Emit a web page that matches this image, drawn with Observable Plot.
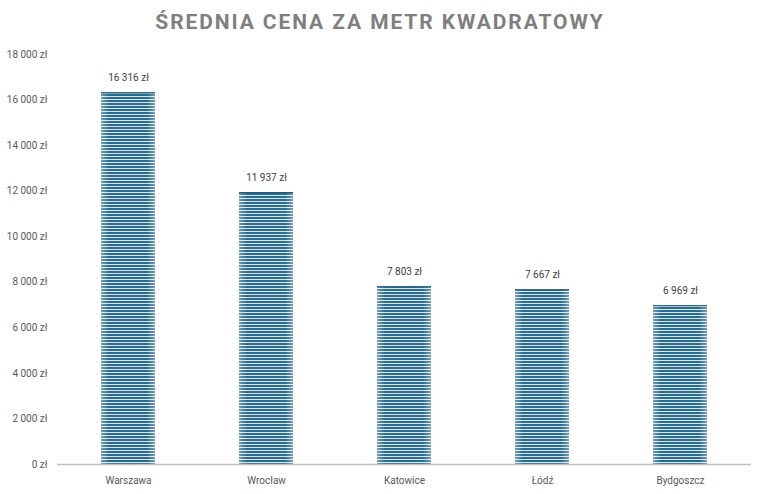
<!DOCTYPE html>
<html>
<head>
<meta charset="utf-8">
<script src="https://cdn.jsdelivr.net/npm/d3@7"></script>
<script src="https://cdn.jsdelivr.net/npm/@observablehq/plot@0.6"></script>
<style>
  html, body { margin: 0; padding: 0; background: #fff; }
  #title { height: 40px; line-height: 44px; text-align: center; font-family: Roboto, sans-serif; font-weight: bold; font-size: 21px; letter-spacing: 1.9px; color: #7f7f7f; padding-right: 4px; }
</style>
</head>
<body>
<div id="title">ŚREDNIA CENA ZA METR KWADRATOWY</div>
<div id="chart"></div>
<script>
const cities = ["Warszawa", "Wrocław", "Katowice", "Łódź", "Bydgoszcz"];
const prices = [16316, 11937, 7803, 7667, 6969];
const yTicks = [0, 2000, 4000, 6000, 8000, 10000, 12000, 14000, 16000, 18000];

const data = cities.map((c, i) => ({city: c, price: prices[i]}));
const loc = d3.formatLocale({decimal: ",", thousands: "\u00a0", grouping: [3], currency: ["", " zł"]});
const fmt = v => loc.format(",")(v).replace(/\u00a0/g, " ") + " zł";

const plot = Plot.plot({
  width: 764,
  height: 454,
  marginLeft: 59,
  marginRight: 15,
  marginTop: 14,
  marginBottom: 30,
  style: {fontFamily: "Roboto, sans-serif", fontSize: "10px", color: "#595959", background: "#fff"},
  x: {domain: cities, paddingInner: 0.61, paddingOuter: 0.305, label: null, tickSize: 0, tickPadding: 12},
  y: {domain: [0, 18000], ticks: yTicks, tickFormat: fmt, label: null, tickSize: 0, tickPadding: 12},
  marks: [
    Plot.barY(data, {x: "city", y: "price", fill: "url(#stripes)"}),
    Plot.barY(data, {x: "city", y: "price", fill: "url(#edges)"}),
    Plot.tickY(data, {x: "city", y: "price", stroke: "#1f5a78", strokeWidth: 1.2}),
    Plot.ruleY([0], {stroke: "#bfbfbf", strokeWidth: 1.5, insetLeft: -2, insetRight: -2}),
    Plot.text(data, {x: "city", y: "price", text: d => fmt(d.price), dy: -15, fill: "#404040", fontSize: 10})
  ]
});

const defs = d3.select(plot).insert("defs", ":first-child");
const pat = defs.append("pattern").attr("id", "stripes").attr("patternUnits", "userSpaceOnUse").attr("width", 10).attr("height", 3);
pat.append("rect").attr("width", 10).attr("height", 3).attr("fill", "#d6e7f0");
pat.append("rect").attr("width", 10).attr("height", 2).attr("fill", "#2b6b8c");
const grad = defs.append("linearGradient").attr("id", "edges").attr("x1", 0).attr("x2", 1).attr("y1", 0).attr("y2", 0);
[[0, 0.35], [0.15, 0], [0.85, 0], [1, 0.35]].forEach(([o, a]) =>
  grad.append("stop").attr("offset", o).attr("stop-color", "#ffffff").attr("stop-opacity", a));

document.getElementById("chart").appendChild(plot);
</script>
</body>
</html>
